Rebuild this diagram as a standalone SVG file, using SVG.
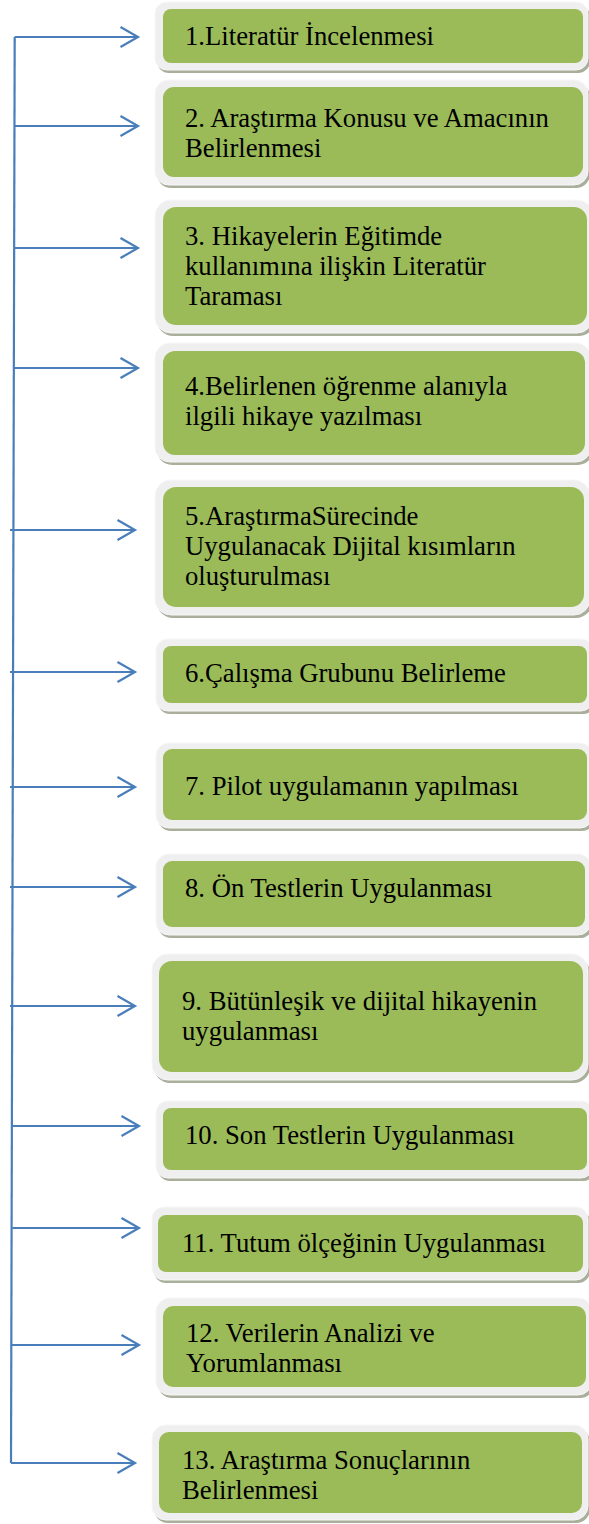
<svg xmlns="http://www.w3.org/2000/svg" width="589" height="1524" viewBox="0 0 589 1524">
<style>
.sh{fill:#a9af9b}
.fr{fill:#efefef;stroke:#f7f7f7;stroke-width:1}
.in{fill:#9bbb59}
.t{font-family:"Liberation Serif","Times New Roman",serif;font-size:26.7px;fill:#000}
.c{fill:none;stroke:#4a7ebb;stroke-width:2.2}
</style>
<defs>
<marker id="ah" markerUnits="userSpaceOnUse" markerWidth="24" markerHeight="26" viewBox="-20 -13 24 26" refX="0" refY="0" orient="auto">
<path d="M-17.5,-10 L0,0 L-17.5,10" fill="none" stroke="#4a7ebb" stroke-width="2.2"/>
</marker>
</defs>
<rect width="589" height="1524" fill="#fff"/>
<g id="connectors">
<path class="c" d="M14.7,37 L11,1463"/>
<path class="c" marker-end="url(#ah)" d="M14.7,37 H138"/>
<path class="c" marker-end="url(#ah)" d="M14.5,126 H138"/>
<path class="c" marker-end="url(#ah)" d="M14.3,248 H138"/>
<path class="c" marker-end="url(#ah)" d="M14,368 H138"/>
<path class="c" marker-end="url(#ah)" d="M10,530 H135"/>
<path class="c" marker-end="url(#ah)" d="M10,672 H135"/>
<path class="c" marker-end="url(#ah)" d="M10,787 H135"/>
<path class="c" marker-end="url(#ah)" d="M10,887 H135"/>
<path class="c" marker-end="url(#ah)" d="M10,1006 H135"/>
<path class="c" marker-end="url(#ah)" d="M12.5,1126 H139"/>
<path class="c" marker-end="url(#ah)" d="M12.2,1228 H139"/>
<path class="c" marker-end="url(#ah)" d="M11.8,1345 H139"/>
<path class="c" marker-end="url(#ah)" d="M11,1463 H135"/>
</g>
<g id="n1">
<rect class="sh" x="157" y="5" width="433" height="68" rx="12"/>
<rect class="fr" x="155" y="2" width="433" height="68" rx="12"/>
<rect class="in" x="163" y="9" width="420" height="54" rx="8"/>
<text class="t" x="185" y="45">1.Literatür İncelenmesi</text>
</g>
<g id="n2">
<rect class="sh" x="157" y="83" width="433" height="105" rx="14"/>
<rect class="fr" x="155" y="80" width="433" height="105" rx="14"/>
<rect class="in" x="163" y="87" width="420" height="90" rx="11"/>
<text class="t" x="185" y="127">2. Araştırma Konusu ve Amacının</text>
<text class="t" x="185" y="157">Belirlenmesi</text>
</g>
<g id="n3">
<rect class="sh" x="157" y="203" width="438" height="133" rx="16"/>
<rect class="fr" x="155" y="200" width="438" height="133" rx="16"/>
<rect class="in" x="163" y="207" width="424" height="118" rx="13"/>
<text class="t" x="185" y="245">3. Hikayelerin Eğitimde</text>
<text class="t" x="185" y="275">kullanımına ilişkin Literatür</text>
<text class="t" x="185" y="305">Taraması</text>
</g>
<g id="n4">
<rect class="sh" x="157" y="346" width="436" height="119" rx="15"/>
<rect class="fr" x="155" y="343" width="436" height="119" rx="15"/>
<rect class="in" x="163" y="351" width="422" height="104" rx="12"/>
<text class="t" x="185" y="395">4.Belirlenen öğrenme alanıyla</text>
<text class="t" x="185" y="425">ilgili hikaye yazılması</text>
</g>
<g id="n5">
<rect class="sh" x="157" y="483" width="435" height="135" rx="16"/>
<rect class="fr" x="155" y="480" width="435" height="135" rx="16"/>
<rect class="in" x="163" y="487" width="421" height="120" rx="13"/>
<text class="t" x="185" y="525">5.AraştırmaSürecinde</text>
<text class="t" x="185" y="555">Uygulanacak Dijital kısımların</text>
<text class="t" x="185" y="585">oluşturulması</text>
</g>
<g id="n6">
<rect class="sh" x="158" y="642" width="437" height="72" rx="12"/>
<rect class="fr" x="156" y="639" width="437" height="72" rx="12"/>
<rect class="in" x="163" y="646" width="424" height="57" rx="8"/>
<text class="t" x="185" y="682">6.Çalışma Grubunu Belirleme</text>
</g>
<g id="n7">
<rect class="sh" x="158" y="746" width="437" height="85" rx="13"/>
<rect class="fr" x="156" y="743" width="437" height="85" rx="13"/>
<rect class="in" x="163" y="749" width="424" height="71" rx="9"/>
<text class="t" x="185" y="795">7. Pilot uygulamanın yapılması</text>
</g>
<g id="n8">
<rect class="sh" x="158" y="857" width="435" height="81" rx="13"/>
<rect class="fr" x="156" y="854" width="435" height="81" rx="13"/>
<rect class="in" x="163" y="861" width="422" height="66" rx="9"/>
<text class="t" x="185" y="897">8. Ön Testlerin Uygulanması</text>
</g>
<g id="n9">
<rect class="sh" x="154" y="957" width="436" height="126" rx="16"/>
<rect class="fr" x="152" y="954" width="436" height="126" rx="16"/>
<rect class="in" x="159" y="961" width="424" height="111" rx="13"/>
<text class="t" x="182" y="1010">9. Bütünleşik ve dijital hikayenin</text>
<text class="t" x="182" y="1040">uygulanması</text>
</g>
<g id="n10">
<rect class="sh" x="158" y="1104" width="437" height="77" rx="12"/>
<rect class="fr" x="156" y="1101" width="437" height="77" rx="12"/>
<rect class="in" x="163" y="1108" width="424" height="62" rx="8"/>
<text class="t" x="185" y="1144">10. Son Testlerin Uygulanması</text>
</g>
<g id="n11">
<rect class="sh" x="154" y="1210" width="436" height="73" rx="12"/>
<rect class="fr" x="152" y="1207" width="436" height="73" rx="12"/>
<rect class="in" x="158" y="1215" width="425" height="57" rx="8"/>
<text class="t" x="182" y="1252">11. Tutum ölçeğinin Uygulanması</text>
</g>
<g id="n12">
<rect class="sh" x="158" y="1301" width="436" height="97" rx="14"/>
<rect class="fr" x="156" y="1298" width="436" height="97" rx="14"/>
<rect class="in" x="163" y="1306" width="423" height="81" rx="10"/>
<text class="t" x="186" y="1342">12. Verilerin Analizi ve</text>
<text class="t" x="186" y="1372">Yorumlanması</text>
</g>
<g id="n13">
<rect class="sh" x="154" y="1428" width="436" height="95" rx="14"/>
<rect class="fr" x="152" y="1425" width="436" height="95" rx="14"/>
<rect class="in" x="159" y="1432" width="423" height="81" rx="10"/>
<text class="t" x="182" y="1469">13. Araştırma Sonuçlarının</text>
<text class="t" x="182" y="1499">Belirlenmesi</text>
</g>
</svg>
